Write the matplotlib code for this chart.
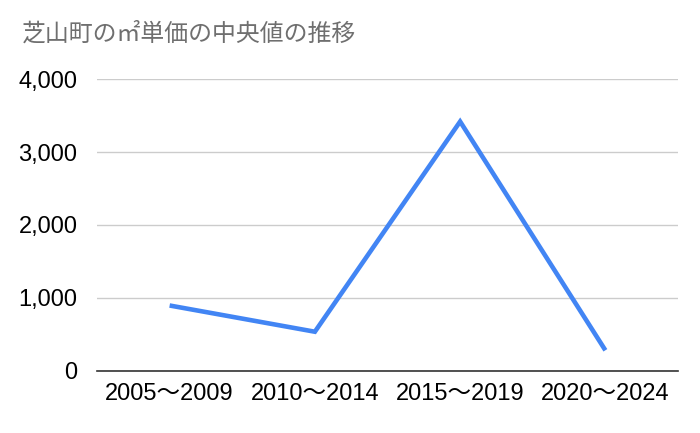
import numpy as np
import matplotlib
matplotlib.use('Agg')
import matplotlib.pyplot as plt
from matplotlib.ticker import FuncFormatter

plt.rcParams['font.family'] = ['Liberation Sans', 'Noto Sans CJK JP', 'DejaVu Sans']

# data
periods = ['2005～2009', '2010～2014', '2015～2019', '2020～2024']
median_price = [895, 535, 3420, 280]
yticks = [0, 1000, 2000, 3000, 4000]
title = '芝山町の㎡単価の中央値の推移'

fig = plt.figure(figsize=(7, 4.33), dpi=100)
ax = fig.add_axes([97 / 700, 1 - 370.7 / 433, 581 / 700, (370.7 - 79.3) / 433])

x = np.arange(len(periods))
ax.plot(x, median_price, color='#4285F4', linewidth=3.3, solid_joinstyle='miter',
        solid_capstyle='butt', zorder=3)

ax.set_xlim(-0.5, len(periods) - 0.5)
ax.set_ylim(0, 4000)
ax.set_yticks(yticks)
ax.yaxis.set_major_formatter(FuncFormatter(lambda v, p: f'{int(v):,}'))
ax.set_xticks(x)
ax.set_xticklabels(periods)

ax.grid(axis='y', color='#cccccc', linewidth=1)
ax.set_axisbelow(True)
for s in ['top', 'right', 'left']:
    ax.spines[s].set_visible(False)
ax.spines['bottom'].set_color('#333333')
ax.spines['bottom'].set_linewidth(1.2)
ax.spines['bottom'].set_zorder(4)

ax.tick_params(axis='both', length=0, labelsize=17, colors='#000000')
ax.tick_params(axis='y', pad=14)
ax.tick_params(axis='x', pad=9)

fig.text(22 / 700, 1 - 22 / 433, title, ha='left', va='top', fontsize=17.2,
         color='#6f6f6f', family=['Noto Sans CJK JP', 'DejaVu Sans'])

fig.savefig('out.png', dpi=100)
plt.close(fig)
